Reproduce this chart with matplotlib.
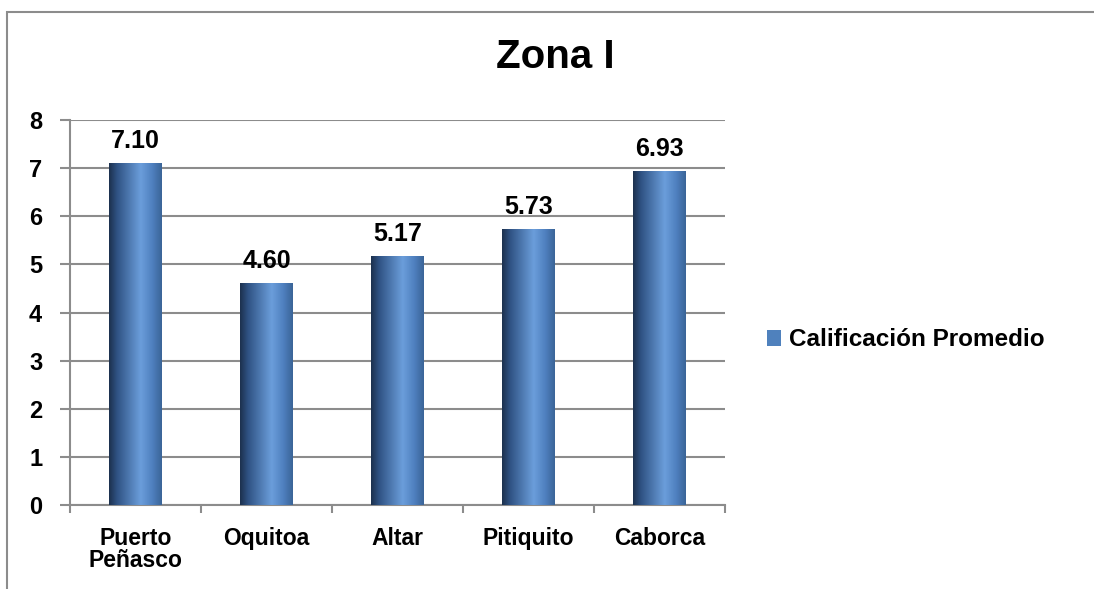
import numpy as np
import matplotlib
matplotlib.use("Agg")
import matplotlib.pyplot as plt
from matplotlib.colors import LinearSegmentedColormap
from matplotlib.patches import Rectangle, Patch

plt.rcParams['font.family'] = ['Liberation Sans', 'DejaVu Sans']
plt.rcParams['font.weight'] = 'bold'

# data
municipios = ["Puerto\nPeñasco", "Oquitoa", "Altar", "Pitiquito", "Caborca"]
calificacion = [7.10, 4.60, 5.17, 5.73, 6.93]
serie = "Calificación Promedio"
titulo = "Zona I"

# gradient like the excel bars: dark edges, light stripe right of centre
cmap = LinearSegmentedColormap.from_list(
    "barra",
    [(0.0, "#1c304d"), (0.15, "#2f5283"), (0.6, "#6b9edb"),
     (0.82, "#4f80bf"), (1.0, "#3a6497")])
grad = np.linspace(0, 1, 256).reshape(1, -1)

fig = plt.figure(figsize=(10.94, 5.89), dpi=100)
ax = fig.add_axes([70 / 1094, 1 - 505 / 589, 655 / 1094, 385 / 589])

# outer chart border (runs off the right and bottom of the picture)
fig.patches.append(Rectangle((7 / 1094, -0.2), 1.2, 1.2 - 12 / 589,
                             transform=fig.transFigure, fill=False,
                             edgecolor="#8c8c8c", linewidth=1.5))

x = np.arange(len(municipios))
ancho = 0.40
for xi, v in zip(x, calificacion):
    ax.imshow(grad, extent=[xi - ancho / 2, xi + ancho / 2, 0, v],
              aspect="auto", cmap=cmap, zorder=3, interpolation="bicubic")
    ax.text(xi, v + 0.22, f"{v:.2f}", ha="center", va="bottom",
            fontsize=18, fontweight="bold", zorder=4)

ax.set_xlim(-0.5, len(municipios) - 0.5)
ax.set_ylim(0, 8)
ax.set_yticks(range(0, 9))
ax.yaxis.grid(True, color="#8c8c8c", linewidth=1.5, zorder=0)
ax.set_axisbelow(True)

ax.set_xticks(np.arange(-0.5, len(municipios), 1.0))
ax.set_xticklabels([])
ax.set_xticks(x, minor=True)
ax.set_xticklabels(municipios, minor=True, fontsize=16.5, fontweight="bold",
                   linespacing=0.95)
ax.tick_params(axis="x", which="major", length=6, color="#8c8c8c", width=1.5)
ax.tick_params(axis="x", which="minor", length=0, pad=16)
ax.tick_params(axis="y", length=7, color="#8c8c8c", width=1.5, pad=13,
               labelsize=17)
for t in ax.get_yticklabels():
    t.set_fontweight("bold")

for s in ["top", "right"]:
    ax.spines[s].set_visible(False)
for s in ["left", "bottom"]:
    ax.spines[s].set_color("#8c8c8c")
    ax.spines[s].set_linewidth(1.5)

fig.text(555 / 1094, 1 - 57 / 589, titulo, ha="center", va="center",
         fontsize=29, fontweight="bold")

fig.legend(handles=[Patch(facecolor="#4f81bd", label=serie)],
           loc="center left", bbox_to_anchor=(745 / 1094, 1 - 340 / 589),
           frameon=False, handlelength=0.6, handleheight=0.6,
           handletextpad=0.3, prop={"weight": "bold", "size": 17.5})

fig.savefig("out.png", dpi=100)
